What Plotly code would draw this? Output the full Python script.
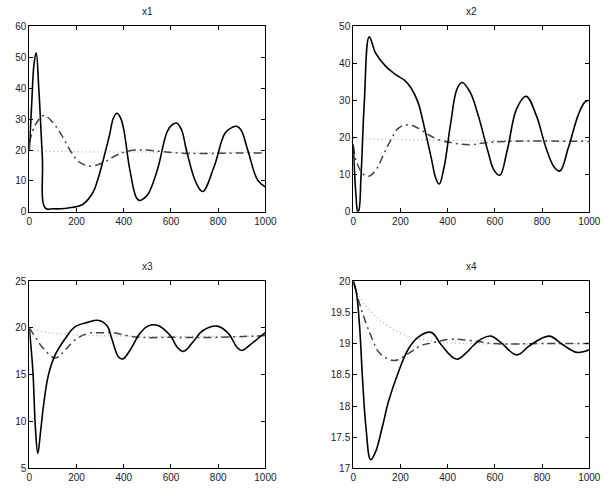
import plotly.graph_objects as go

# ---------------- data ----------------
x1_solid_t = [0, 10, 20, 29, 40, 55, 68, 100, 150, 178, 226, 268, 290, 316, 340, 356, 371, 386, 399, 426, 454, 468, 482, 502, 542, 584, 605, 625, 645, 666, 707, 734, 782, 830, 860, 878, 896, 926, 967, 1000]
x1_solid_v = [20, 35, 48, 51.5, 40, 18, 1.2, 1.0, 1.1, 1.4, 2.4, 6.1, 10.5, 17.7, 25, 30.3, 31.9, 30.5, 27, 13.5, 4.5, 3.7, 4.2, 5.6, 13.5, 26, 28.2, 28.7, 26.5, 19.8, 9.3, 6.6, 14.5, 25.6, 27.4, 27.7, 26.6, 19.8, 10.3, 8.0]
x1_dash_t = [0, 26, 61, 102, 143, 178, 212, 261, 316, 371, 426, 495, 550, 650, 750, 850, 1000]
x1_dash_v = [22.4, 28.2, 31.2, 28.7, 24, 19.3, 16.1, 14.8, 16.1, 18.4, 19.8, 20.0, 19.6, 19.0, 18.9, 19.0, 19.1]
x1_dot_t = [0, 100, 300, 600, 1000]
x1_dot_v = [19.8, 19.6, 19.4, 19.3, 19.2]

x2_solid_t = [0, 12, 19, 23, 33, 47, 68, 95, 137, 178, 219, 247, 274, 302, 330, 350, 364, 385, 412, 440, 461, 495, 529, 570, 597, 621, 652, 693, 732, 775, 816, 851, 875, 912, 953, 981, 1000]
x2_solid_v = [18.2, 4.2, 0.2, 0.3, 9.5, 29.6, 47.2, 42.8, 39.3, 37.1, 35.4, 33.2, 29.6, 22.6, 14.7, 9.0, 7.5, 12.1, 23.5, 33.2, 34.9, 32.3, 26.1, 16.5, 11.2, 9.9, 16.5, 27.9, 31.2, 26.1, 17.4, 12.1, 11.0, 17.4, 26.1, 29.6, 30.1]
x2_dash_t = [0, 12, 26, 40, 65, 95, 123, 157, 192, 233, 274, 316, 357, 412, 495, 550, 650, 750, 1000]
x2_dash_v = [17.8, 13.9, 11.7, 10.3, 9.6, 11.2, 14.7, 19.1, 22.6, 23.5, 22.6, 20.9, 19.6, 18.7, 18.1, 18.6, 19.0, 19.1, 19.0]
x2_dot_t = [0, 200, 400, 1000]
x2_dot_v = [19.8, 19.5, 19.3, 19.1]

x3_solid_t = [0, 15, 26, 36, 47, 61, 81, 109, 150, 192, 247, 295, 330, 350, 378, 396, 426, 468, 502, 542, 597, 625, 652, 693, 734, 796, 844, 878, 899, 940, 974, 1000]
x3_solid_v = [19.9, 15.4, 9.2, 6.6, 8.8, 11.9, 15.0, 17.1, 18.8, 20.1, 20.6, 20.8, 20.2, 18.8, 16.9, 16.7, 17.6, 19.4, 20.2, 20.3, 19.2, 18.0, 17.5, 18.5, 19.7, 20.2, 19.4, 18.0, 17.6, 18.3, 19.0, 19.5]
x3_dash_t = [0, 26, 60, 110, 150, 192, 247, 316, 357, 412, 468, 600, 800, 1000]
x3_dash_v = [20, 19.0, 17.8, 16.8, 17.6, 18.7, 19.4, 19.5, 19.5, 19.2, 19.0, 19.0, 19.0, 19.2]
x3_dot_t = [0, 60, 120, 250, 1000]
x3_dot_v = [20, 19.6, 19.4, 19.2, 19.1]

x4_solid_t = [0, 12, 26, 40, 54, 74, 95, 123, 150, 192, 233, 274, 330, 371, 412, 440, 481, 509, 545, 584, 625, 693, 748, 830, 885, 947, 1000]
x4_solid_v = [20, 19.85, 19.33, 18.4, 17.66, 17.14, 17.27, 17.66, 18.08, 18.55, 18.91, 19.1, 19.18, 18.99, 18.81, 18.75, 18.86, 18.97, 19.08, 19.12, 19.02, 18.82, 18.97, 19.12, 18.99, 18.86, 18.9]
x4_dash_t = [0, 26, 54, 81, 109, 150, 178, 233, 288, 343, 412, 495, 600, 800, 1000]
x4_dash_v = [20, 19.65, 19.33, 19.07, 18.86, 18.75, 18.73, 18.84, 18.97, 19.02, 19.07, 19.05, 19.0, 19.0, 19.0]
x4_dot_t = [0, 26, 81, 137, 192, 247, 302, 385, 500, 1000]
x4_dot_v = [20, 19.75, 19.49, 19.31, 19.18, 19.1, 19.06, 19.02, 19.0, 19.0]

titles = ["x1", "x2", "x3", "x4"]
y_ranges = [[0, 60], [0, 50], [5, 25], [17, 20]]
y_dticks = [10, 10, 5, 0.5]
x_ticks = [0, 200, 400, 600, 800, 1000]

series = [
    (x1_solid_t, x1_solid_v, x1_dash_t, x1_dash_v, x1_dot_t, x1_dot_v),
    (x2_solid_t, x2_solid_v, x2_dash_t, x2_dash_v, x2_dot_t, x2_dot_v),
    (x3_solid_t, x3_solid_v, x3_dash_t, x3_dash_v, x3_dot_t, x3_dot_v),
    (x4_solid_t, x4_solid_v, x4_dash_t, x4_dash_v, x4_dot_t, x4_dot_v),
]

W, H = 613, 494
xdoms = [[27 / W, 269 / W], [359 / W, 601 / W]]
ydoms = [[1 - 211 / H, 1 - 21 / H], [1 - 474 / H, 1 - 282 / H]]

fig = go.Figure()
font = dict(family="Liberation Sans, Arial, sans-serif", size=10, color="#222")

for i, (st, sv, dt, dv, ot, ov) in enumerate(series):
    n = i + 1
    xa = "x" if n == 1 else f"x{n}"
    ya = "y" if n == 1 else f"y{n}"
    fig.add_trace(go.Scatter(x=ot, y=ov, mode="lines", xaxis=xa, yaxis=ya,
                             line=dict(color="#a8a8a8", width=1.2, dash="1px,3px", shape="spline", smoothing=1.0),
                             showlegend=False, hoverinfo="skip"))
    fig.add_trace(go.Scatter(x=dt, y=dv, mode="lines", xaxis=xa, yaxis=ya,
                             line=dict(color="#444444", width=1.5, dash="8px,4px,2px,4px", shape="spline", smoothing=1.1),
                             showlegend=False, hoverinfo="skip"))
    fig.add_trace(go.Scatter(x=st, y=sv, mode="lines", xaxis=xa, yaxis=ya,
                             line=dict(color="#000000", width=1.6, shape="spline", smoothing=1.1),
                             showlegend=False, hoverinfo="skip"))
    row, col = i // 2, i % 2
    axcommon = dict(showline=True, linecolor="black", linewidth=1, mirror="allticks",
                    ticks="inside", ticklen=4, tickcolor="black", showgrid=False,
                    zeroline=False, tickfont=font)
    fig.layout[("xaxis" if n == 1 else f"xaxis{n}")] = dict(
        domain=xdoms[col], anchor=ya, range=[0, 1000], tickvals=x_ticks,
        ticktext=[str(v) for v in x_ticks], **axcommon)
    fig.layout[("yaxis" if n == 1 else f"yaxis{n}")] = dict(
        domain=ydoms[row], anchor=xa, range=y_ranges[i], dtick=y_dticks[i],
        tick0=y_ranges[i][0], **axcommon)
    fig.add_annotation(text=titles[i], xref="paper", yref="paper",
                       x=(xdoms[col][0] + xdoms[col][1]) / 2, y=ydoms[row][1],
                       yshift=7, xanchor="center", yanchor="bottom", showarrow=False,
                       font=dict(family="Liberation Sans, Arial, sans-serif", size=10, color="#222"))

fig.update_layout(width=W, height=H, margin=dict(l=0, r=0, t=0, b=0),
                  paper_bgcolor="white", plot_bgcolor="white")
fig.write_html("out.html")
